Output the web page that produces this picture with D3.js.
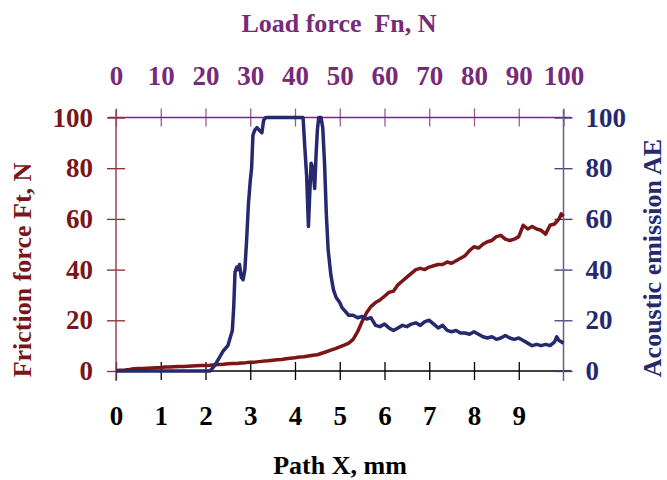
<!DOCTYPE html>
<html>
<head>
<meta charset="utf-8">
<script src="https://cdn.jsdelivr.net/npm/d3@7"></script>
<style>
  body { margin: 0; background: #fff; }
  text { font-family: "Liberation Serif", "Times New Roman", serif; font-weight: bold; }
</style>
</head>
<body>
<svg id="chart"></svg>
<script>
// Path X, mm (bottom) and load force Fn, N (top)
var pathTicks = [0, 1, 2, 3, 4, 5, 6, 7, 8, 9];
var loadTicks = [0, 10, 20, 30, 40, 50, 60, 70, 80, 90, 100];
var yTicks = [0, 20, 40, 60, 80, 100];

// friction force Ft, N, sampled every 0.1 mm
var frictionX = [0, 0.1, 0.2, 0.3, 0.4, 0.5, 0.6, 0.7, 0.8, 0.9,
    1, 1.1, 1.2, 1.3, 1.4, 1.5, 1.6, 1.7, 1.8, 1.9,
    2, 2.1, 2.2, 2.3, 2.4, 2.5, 2.6, 2.7, 2.8, 2.9,
    3, 3.1, 3.2, 3.3, 3.4, 3.5, 3.6, 3.7, 3.8, 3.9,
    4, 4.1, 4.2, 4.3, 4.4, 4.5, 4.6, 4.7, 4.8, 4.9,
    5, 5.1, 5.2, 5.3, 5.4, 5.5, 5.6, 5.7, 5.8, 5.9,
    6, 6.1, 6.2, 6.3, 6.4, 6.5, 6.6, 6.7, 6.8, 6.9,
    7, 7.1, 7.2, 7.3, 7.4, 7.5, 7.6, 7.7, 7.8, 7.9,
    8, 8.1, 8.2, 8.3, 8.4, 8.5, 8.6, 8.7, 8.8, 8.9,
    9, 9.1, 9.2, 9.3, 9.4, 9.5, 9.6, 9.7, 9.8, 9.9, 9.95, 10];
var frictionY = [0.2, 0.3, 0.4, 0.6, 0.9, 1.0, 1.0, 1.1, 1.2, 1.3,
    1.4, 1.6, 1.6, 1.7, 1.8, 1.8, 1.9, 2.0, 2.1, 2.2,
    2.2, 2.3, 2.5, 2.6, 2.7, 2.9, 3.0, 3.0, 3.2, 3.3,
    3.5, 3.5, 3.7, 3.9, 4.0, 4.2, 4.4, 4.5, 4.8, 5.0,
    5.2, 5.5, 5.6, 5.9, 6.2, 6.4, 7.0, 7.6, 8.2, 8.8,
    9.5, 10.2, 11.0, 12.5, 15.5, 19.5, 23.0, 25.5, 27.0, 28.0,
    29.5, 31.0, 31.5, 34.0, 35.5, 37.0, 38.5, 40.0, 40.5, 40.0,
    41.0, 41.5, 42.0, 42.0, 43.0, 42.5, 43.5, 44.5, 45.5, 47.5,
    49.0, 48.5, 50.0, 51.0, 51.5, 53.0, 53.5, 52.0, 51.5, 52.0,
    53.0, 57.5, 56.0, 57.0, 56.0, 55.5, 54.0, 57.5, 58.0, 60.0, 62.0, 61.0];

// acoustic emission AE
var aeX = [0, 0.5, 1, 1.5, 2, 2.1, 2.2, 2.3, 2.4, 2.5, 2.55, 2.6, 2.63, 2.66, 2.7, 2.73,
    2.76, 2.8, 2.84, 2.88, 2.92, 2.96, 3, 3.03, 3.06, 3.1, 3.15, 3.2, 3.26, 3.3, 3.35,
    4.18, 4.22, 4.26, 4.3, 4.33, 4.36, 4.4, 4.44, 4.47, 4.5, 4.53, 4.58, 4.62, 4.66,
    4.7, 4.74, 4.8, 4.86, 4.92, 5, 5.05, 5.1, 5.2, 5.3, 5.4, 5.5, 5.6, 5.7, 5.75, 5.8,
    5.9, 6, 6.1, 6.2, 6.3, 6.4, 6.5, 6.6, 6.7, 6.8, 6.9, 7, 7.1, 7.2, 7.3, 7.4, 7.5,
    7.6, 7.7, 7.8, 7.9, 8, 8.1, 8.2, 8.3, 8.4, 8.5, 8.6, 8.7, 8.8, 8.9, 9, 9.1, 9.2,
    9.3, 9.4, 9.5, 9.6, 9.7, 9.8, 9.85, 9.9, 10];
var aeY = [0, 0, 0, 0, 0, 0, 2, 5, 8, 10, 13, 16, 25, 39, 41, 40,
    42, 37, 36, 40, 52, 66, 75, 80, 93, 95, 96, 95, 94, 99, 100,
    100, 88, 77, 57, 70, 82, 80, 72, 85, 95, 100, 100, 96, 82,
    62, 48, 38, 32, 29, 27, 25, 24, 22, 22, 21, 21.5, 20.5, 21, 19.5, 18,
    17.5, 18.5, 17, 16, 17, 18, 17.5, 18.5, 19, 18, 19.5, 20, 18.5, 17, 18, 16, 15.5,
    16, 15, 15, 14.5, 15.5, 14.5, 13.5, 13, 13.5, 12.5, 13, 14, 13, 12.5, 13, 12, 11,
    10, 10.5, 10, 10.5, 10, 11.5, 13.5, 12, 11];

var width = 667,
    height = 480,
    plotLeft = 116,
    plotRight = 563.5,
    plotTop = 117.5,
    plotBottom = 371;

var svg = d3.select("#chart")
    .attr("width", width)
    .attr("height", height);

var x = d3.scaleLinear().domain([0, 10]).range([plotLeft, plotRight]);
var xTop = d3.scaleLinear().domain([0, 100]).range([plotLeft, plotRight]);
var yLeft = d3.scaleLinear().domain([0, 100]).range([plotBottom, plotTop]);
var yRight = d3.scaleLinear().domain([0, 100]).range([plotBottom, plotTop]);

var red = "#7a1518",
    blue = "#27296e",
    purple = "#772a78";

function styleAxis(g, tickColor, textColor) {
    g.select(".domain").remove();
    g.selectAll(".tick line").attr("stroke", tickColor).attr("stroke-width", 1.3);
    g.selectAll(".tick text")
        .attr("fill", textColor)
        .style("font-size", "27px");
}

// bottom axis
var gb = svg.append("g")
    .attr("transform", "translate(0," + plotBottom + ")")
    .call(d3.axisBottom(x).tickValues(pathTicks).tickSize(9).tickPadding(26).tickFormat(d3.format("d")));
styleAxis(gb, "#000", "#000");
gb.selectAll(".tick line").attr("y1", -9);
gb.append("line").attr("x1", plotLeft).attr("x2", plotRight + 8).attr("stroke", "#000").attr("stroke-width", 1.3);

// top axis
var gt = svg.append("g")
    .attr("transform", "translate(0," + plotTop + ")")
    .call(d3.axisTop(xTop).tickValues(loadTicks).tickSize(9).tickPadding(24).tickFormat(d3.format("d")));
styleAxis(gt, "#9a5a9a", purple);
gt.selectAll(".tick line").attr("y1", 9);
gt.append("line").attr("x1", plotLeft - 8).attr("x2", plotRight + 8).attr("stroke", purple).attr("stroke-width", 1.3);

// left axis
var gl = svg.append("g")
    .attr("transform", "translate(" + plotLeft + ",0)")
    .call(d3.axisLeft(yLeft).tickValues(yTicks).tickSize(9).tickPadding(14));
styleAxis(gl, "#8c2a2e", red);
gl.selectAll(".tick line").attr("x1", 9);
gl.append("line").attr("y1", plotTop - 8).attr("y2", plotBottom + 10).attr("stroke", "#8c4a50").attr("stroke-width", 1.5);

// right axis
var gr = svg.append("g")
    .attr("transform", "translate(" + plotRight + ",0)")
    .call(d3.axisRight(yRight).tickValues(yTicks).tickSize(9).tickPadding(13));
styleAxis(gr, "#3a3a80", blue);
gr.selectAll(".tick line").attr("x1", -9);
gr.append("line").attr("y1", plotTop - 8).attr("y2", plotBottom + 10).attr("stroke", "#5f5f8f").attr("stroke-width", 1.5);

// series
var frictionLine = d3.line()
    .x(function(d) { return x(d[0]); })
    .y(function(d) { return yLeft(d[1]); });
var aeLine = d3.line()
    .x(function(d) { return x(d[0]); })
    .y(function(d) { return yRight(d[1]); });

svg.append("path")
    .datum(d3.zip(frictionX, frictionY))
    .attr("d", frictionLine)
    .attr("fill", "none")
    .attr("stroke", red)
    .attr("stroke-width", 3.5)
    .attr("stroke-linejoin", "round");

svg.append("path")
    .datum(d3.zip(aeX, aeY))
    .attr("d", aeLine)
    .attr("fill", "none")
    .attr("stroke", blue)
    .attr("stroke-width", 3.5)
    .attr("stroke-linejoin", "round");

// titles
svg.append("text")
    .attr("x", 339).attr("y", 32)
    .attr("text-anchor", "middle")
    .attr("fill", purple)
    .style("font-size", "26px")
    .style("white-space", "pre")
    .text("Load force  Fn, N");

svg.append("text")
    .attr("x", 340).attr("y", 474)
    .attr("text-anchor", "middle")
    .attr("fill", "#000")
    .style("font-size", "26px")
    .text("Path X, mm");

svg.append("text")
    .attr("transform", "translate(31,270) rotate(-90)")
    .attr("text-anchor", "middle")
    .attr("fill", red)
    .style("font-size", "26px")
    .text("Friction force Ft, N");

svg.append("text")
    .attr("transform", "translate(661,258) rotate(-90)")
    .attr("text-anchor", "middle")
    .attr("fill", blue)
    .style("font-size", "26px")
    .text("Acoustic emission AE");
</script>
</body>
</html>
